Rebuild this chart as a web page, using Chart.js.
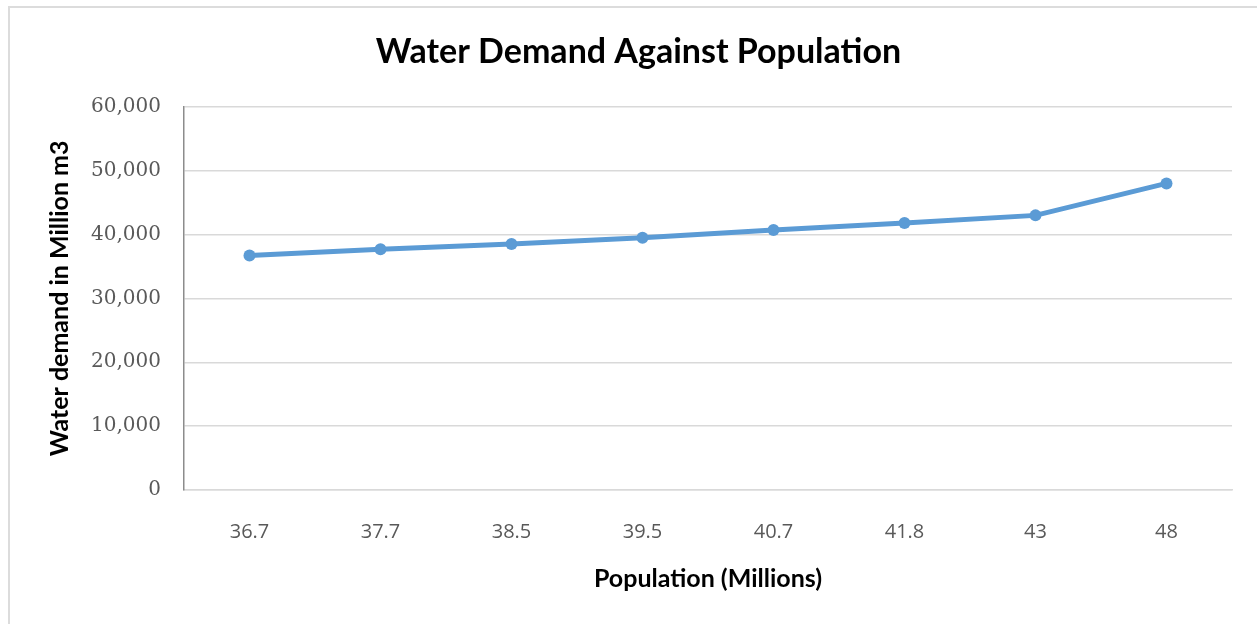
<!DOCTYPE html>
<html>
<head>
<meta charset="utf-8">
<title>Water Demand Against Population</title>
<script src="https://cdn.jsdelivr.net/npm/chart.js@4/dist/chart.umd.min.js"></script>
<style>
  html, body { margin: 0; padding: 0; background: #ffffff; }
  #wrap { position: relative; width: 1257px; height: 624px; }
  canvas { display: block; }
</style>
</head>
<body>
<div id="wrap"><canvas id="chart" width="1257" height="624"></canvas></div>
<script>
// Population (millions) on the category axis
const populations = ['36.7', '37.7', '38.5', '39.5', '40.7', '41.8', '43', '48'];
// Water demand in million m3 for each population level
const waterDemand = [36700, 37700, 38500, 39500, 40700, 41800, 43000, 48000];
// Value axis ticks
const yTicks = [0, 10000, 20000, 30000, 40000, 50000, 60000];

const lineBlue = '#5b9bd5';
const gridGrey = '#d9d9d9';
const labelGrey = '#595959';

// Light frame around the chart panel (top and left edges)
const framePlugin = {
  id: 'frame',
  beforeDraw(chart) {
    const ctx = chart.ctx;
    ctx.save();
    ctx.fillStyle = '#ffffff';
    ctx.fillRect(0, 0, chart.width, chart.height);
    ctx.strokeStyle = '#dcdcdc';
    ctx.lineWidth = 2;
    ctx.beginPath();
    ctx.moveTo(chart.width, 7);
    ctx.lineTo(9, 7);
    ctx.lineTo(9, chart.height);
    ctx.stroke();
    ctx.restore();
  }
};

new Chart(document.getElementById('chart'), {
  type: 'line',
  data: {
    labels: populations,
    datasets: [{
      label: 'Water demand',
      data: waterDemand,
      borderColor: lineBlue,
      backgroundColor: lineBlue,
      borderWidth: 5,
      pointRadius: 6,
      pointHoverRadius: 6,
      pointBackgroundColor: lineBlue,
      pointBorderColor: lineBlue,
      pointBorderWidth: 0,
      tension: 0,
      fill: false
    }]
  },
  options: {
    responsive: false,
    animation: false,
    devicePixelRatio: 1,
    layout: { padding: { left: 45, right: 25, top: 0, bottom: 30 } },
    plugins: {
      legend: { display: false },
      tooltip: { enabled: false },
      title: {
        display: true,
        text: 'Water Demand Against Population',
        color: '#000000',
        font: { family: 'Lato, "Open Sans", sans-serif', size: 34, weight: 'bold' },
        padding: { top: 32, bottom: 34 }
      }
    },
    scales: {
      x: {
        offset: true,
        afterFit(scale) { scale.height = 104; },
        grid: { display: false, drawTicks: false },
        border: { display: true, color: gridGrey, width: 1.5 },
        ticks: {
          color: labelGrey,
          padding: 30,
          maxRotation: 0,
          font: { family: '"Open Sans", sans-serif', size: 20 }
        },
        title: {
          display: true,
          text: 'Population (Millions)',
          color: '#000000',
          font: { family: 'Lato, "Open Sans", sans-serif', size: 25, weight: 'bold' },
          padding: { top: 0, bottom: 0 }
        }
      },
      y: {
        min: 0,
        max: 60000,
        afterBuildTicks(scale) {
          scale.ticks = yTicks.map(v => ({ value: v }));
        },
        afterFit(scale) { scale.width = 139; },
        grid: { color: gridGrey, lineWidth: 1.5, drawTicks: false },
        border: { display: true, color: '#8c8c8c', width: 1.5 },
        ticks: {
          color: labelGrey,
          padding: 23,
          font: { family: '"DejaVu Serif", serif', size: 20 },
          callback: v => v.toLocaleString('en-US')
        },
        title: {
          display: true,
          text: 'Water demand in Million m3',
          color: '#000000',
          font: { family: 'Lato, "Open Sans", sans-serif', size: 25, weight: 'bold' },
          padding: { top: 0, bottom: 0 }
        }
      }
    }
  },
  plugins: [framePlugin]
});
</script>
</body>
</html>
